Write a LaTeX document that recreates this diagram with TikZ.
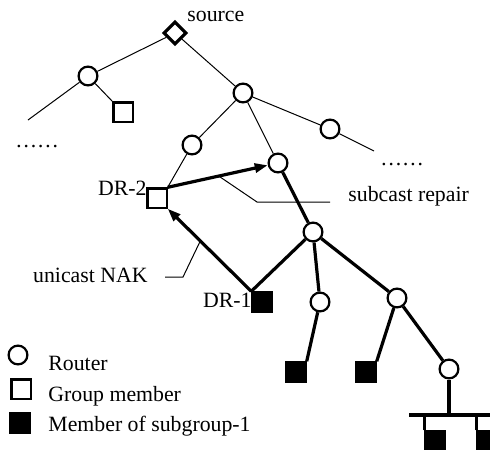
\documentclass[tikz,border=0pt]{standalone}
\usepackage{fontspec}
\setmainfont{Liberation Serif}
\usetikzlibrary{arrows.meta,shapes.geometric}

\begin{document}
\begin{tikzpicture}[
  x=0.5pt,y=-0.5pt,
  font=\fontsize{10.9}{13}\selectfont,
  rt/.style={draw,circle,line width=1.1pt,fill=white,minimum size=9.4pt,inner sep=0pt},
  grp/.style={draw,rectangle,line width=1.1pt,fill=white,minimum size=9.6pt,inner sep=0pt},
  subm/.style={grp,fill=black},
  src/.style={draw,diamond,line width=1.6pt,fill=white,minimum size=11.5pt,inner sep=0pt},
  lnk/.style={line width=0.5pt},
  hvy/.style={line width=1.6pt},
  arr/.style={hvy,-{Triangle[length=6.5pt,width=4.5pt]}},
  lab/.style={anchor=base west,inner sep=0pt}
]
\useasboundingbox (0,0) rectangle (490,449);

% tree nodes
\node[src] (S) at (175,33) {};
\node[rt] (rL) at (88,76) {};
\node[grp] (mL) at (123,112) {};
\coordinate (cL) at (28,120);
\node[rt] (rA) at (243,93) {};
\node[rt] (rB) at (192,145) {};
\node[rt] (rC) at (330,129) {};
\coordinate (cC) at (374,151);
\node[grp] (dr2) at (157,198) {};
\node[rt] (rD) at (278,163) {};
\node[rt] (rE) at (313,232) {};
\node[subm] (dr1) at (262,302) {};
\node[rt] (rF) at (320,302) {};
\node[rt] (rG) at (397,298) {};
\node[subm] (m1) at (296,372) {};
\node[subm] (m2) at (366,372) {};
\node[rt] (rH) at (449,369) {};
\node[subm] (m3) at (435,441) {};
\node[subm] (m4) at (487,441) {};
\coordinate (busL) at (409,415);
\coordinate (busR) at (490,415);

% thin links
\draw[lnk] (S) -- (rL);
\draw[lnk] (rL) -- (cL);
\draw[lnk] (rL) -- (mL.north west);
\draw[lnk] (S) -- (rA);
\draw[lnk] (rA) -- (rB);
\draw[lnk] (rA) -- (rD);
\draw[lnk] (rA) -- (rC);
\draw[lnk] (rC) -- (cC);
\draw[lnk] (rB) -- (dr2.north east);

% subgroup-1 tree
\draw[hvy] (rD) -- (rE);
\draw[hvy] (rE) -- (dr1.north west);
\draw[hvy] (rE) -- (rF);
\draw[hvy] (rE) -- (rG);
\draw[hvy] (rF) -- (m1.north east);
\draw[hvy] (rG) -- (m2.north east);
\draw[hvy] (rG) -- (rH);
\draw[hvy] (rH) -- (rH |- busL);
\draw[hvy] (busL) -- (busR);
\draw[hvy] (m3.north west) -- (m3.north west |- busL);
\draw[hvy] (m4.north west) -- (m4.north west |- busL);

% repair arrows
\draw[arr] (dr2.north east) -- coordinate[pos=0.51] (sr) (rD);
\draw[arr] (dr1.north west) -- coordinate[pos=0.61] (nk) (dr2.south east);

% labels
\node[lab] (srcl) at (187,22) {source};
\node[lab,anchor=base east] (dr2l) at (147,195) {DR-2};
\node[lab,anchor=base east] (dr1l) at (252,307) {DR-1};
\node[lab] (dotL) at (15,147) {……};
\node[lab] (dotR) at (380,165) {……};
\node[lab] (srl) at (348,201) {subcast repair};
\node[lab,anchor=base east] (nkl) at (148,282) {unicast NAK};
\coordinate (srk) at (257,202);
\coordinate (sre) at (330,202);
\coordinate (nkk) at (183,277);
\coordinate (nke) at (165,277);
\draw[lnk] (sr) -- (srk) -- (sre);
\draw[lnk] (nk) -- (nkk) -- (nke);

% legend
\node[rt] (kR) at (18,355) {};
\node[grp] (kG) at (21,389) {};
\node[subm] (kS) at (20,423) {};
\node[lab] (kRl) at (48,370) {Router};
\node[lab] (kGl) at (48,401) {Group member};
\node[lab] (kSl) at (48,431) {Member of subgroup-1};
\end{tikzpicture}
\end{document}
